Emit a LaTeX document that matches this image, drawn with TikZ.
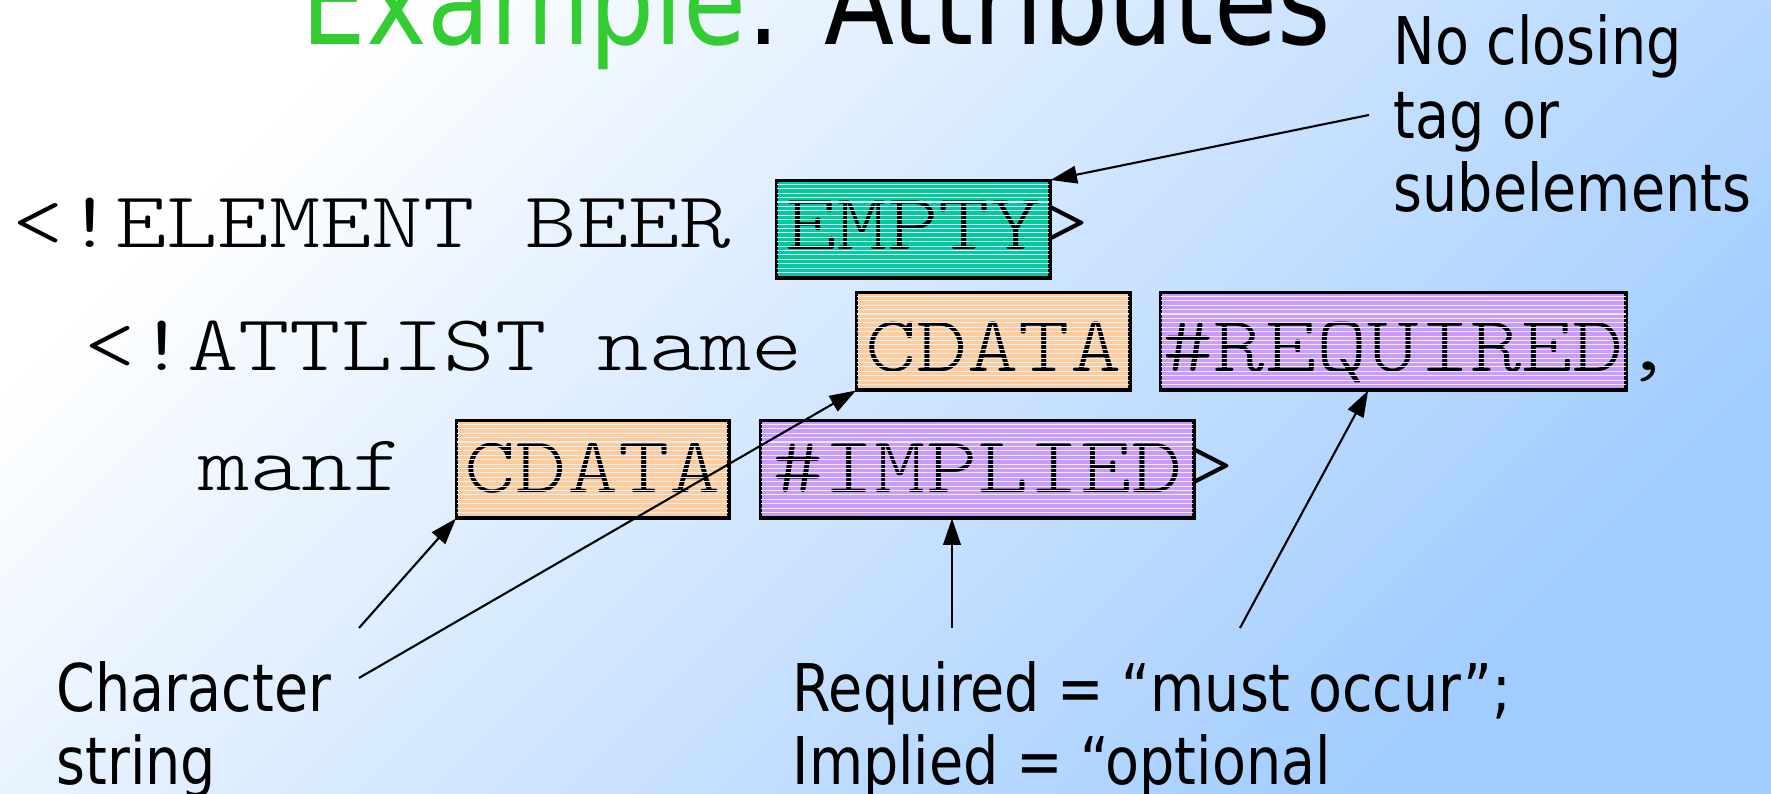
\documentclass[tikz,border=0pt]{standalone}
\usepackage{fontspec}
\setmainfont{DejaVu Sans}[FakeStretch=0.845]
\newfontfamily\monofont{lmmonolt10-regular.otf}[FakeStretch=1.23]
\usetikzlibrary{arrows.meta,calc}
\definecolor{titlegreen}{RGB}{51,204,51}
\definecolor{emptygreen}{RGB}{0,204,153}
\definecolor{cdataorange}{RGB}{255,204,153}
\definecolor{attrpurple}{RGB}{204,153,255}
\definecolor{slideblue}{RGB}{160,204,255}
\definecolor{stripecol}{RGB}{228,238,252}
\tikzset{
  code/.style={
    inner sep = 0pt,
    font=\monofont\fontsize{22.6}{26}\selectfont
  },
  attrbox/.style={
    code,
    draw,
    line width=0.7pt,
    anchor=north west
  },
  stripe/.style={
    stripecol,
    line width=0.3pt
  },
  note/.style={
    inner sep = 0pt,
    align=left,
    font=\fontsize{18.7}{21}\selectfont
  },
  pointer/.style={
    -{Triangle[length=7.5pt,width=5pt]},
    line width=0.6pt
  }
}

\begin{document}
\begin{tikzpicture}[x=0.01cm,y=-0.01cm]
  \useasboundingbox (0,0) rectangle (1771,794);
  \shade[top color=white, bottom color=slideblue, shading angle=45] (0,0) rectangle (1771,794);
  \node[inner sep=0pt, anchor=base west, font=\fontsize{34.5}{40}\selectfont] (title) at (301,45) {\textcolor{titlegreen}{Example}: Attributes};
  % plain code
  \node[code, anchor=base west] (elem) at (12,248) {<!ELEMENT BEER};
  \node[code, anchor=base west] (attl) at (84,371) {<!ATTLIST name};
  \node[code, anchor=base west] (manf) at (198,491) {manf};
  \node[code, anchor=base west] (elemend) at (1038,248) {>};
  \node[code, anchor=base west] (comma) at (1622,371) {,};
  \node[code, anchor=base west] (implend) at (1183,491) {>};
  % highlighted keywords
  \node[attrbox, fill=emptygreen, minimum width=2.72cm, text height=0.68cm, text depth=0.28cm] (emptybox) at (776,180) {EMPTY};
  \node[attrbox, fill=cdataorange, minimum width=2.72cm, text height=0.78cm, text depth=0.18cm] (cdataname) at (856,292) {CDATA};
  \node[attrbox, fill=attrpurple, minimum width=4.64cm, text height=0.78cm, text depth=0.18cm] (requiredbox) at (1160,292) {\#REQUIRED};
  \node[attrbox, fill=cdataorange, minimum width=2.71cm, text height=0.71cm, text depth=0.25cm] (cdatamanf) at (456,420) {CDATA};
  \node[attrbox, fill=attrpurple, minimum width=4.32cm, text height=0.71cm, text depth=0.25cm] (impliedbox) at (760,420) {\#IMPLIED};
  \foreach \b in {emptybox,cdataname,requiredbox,cdatamanf,impliedbox}{
    \begin{scope}
      \clip (\b.south west) rectangle (\b.north east);
      \foreach \k in {1,...,21}
        \draw[stripe] ([yshift=-\k*0.044cm]\b.north west) -- ([yshift=-\k*0.044cm]\b.north east);
    \end{scope}
    \draw[line width=0.7pt] (\b.south west) rectangle (\b.north east);
  }
  % notes
  \node[note, anchor=base west] (noclose) at (1393,212) {No closing\\tag or\\subelements};
  \node[note, anchor=base west] (charstr) at (56,785) {Character\\string};
  \node[note, anchor=base west] (reqimp) at (792,785) {Required = “must occur”;\\Implied = “optional};
  \coordinate (nctail) at (1369,115);
  \coordinate (cstail1) at (359,628);
  \coordinate (cstail2) at (359,678);
  \coordinate (imptail) at (952,628);
  \coordinate (reqtail) at (1240,628);
  \draw[pointer] (nctail) -- (emptybox.north east);
  \draw[pointer] (cstail1) -- (cdatamanf.south west);
  \draw[pointer] (cstail2) -- (cdataname.south west);
  \draw[pointer] (imptail) -- (imptail |- impliedbox.south);
  \draw[pointer] (reqtail) -- ($(requiredbox.south west)!0.446!(requiredbox.south east)$);
\end{tikzpicture}
\end{document}
